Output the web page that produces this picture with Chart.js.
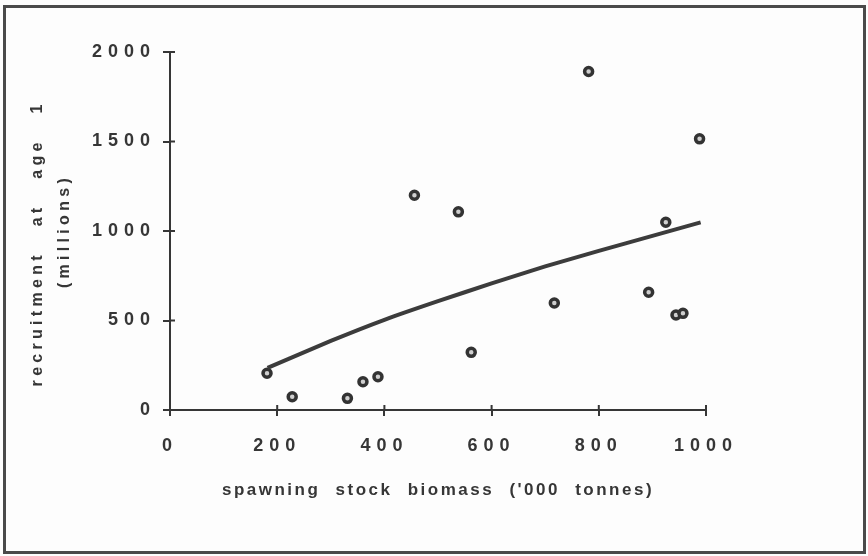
<!DOCTYPE html>
<html lang="en">
<head>
    <meta charset="UTF-8">
    <title>Stock and recruitment</title>
    <script src="https://cdn.jsdelivr.net/npm/chart.js"></script>
    <style>
        html, body {
            margin: 0;
            padding: 0;
            background: #fdfdfd;
        }
        .wrap {
            position: relative;
            width: 868px;
            height: 556px;
        }
        .frame {
            position: absolute;
            left: 3px;
            top: 5px;
            width: 857px;
            height: 543px;
            border: 3px solid #4a4a4a;
            pointer-events: none;
        }
    </style>
</head>
<body>
    <div class="wrap">
        <canvas id="srChart" width="868" height="556"></canvas>
        <div class="frame"></div>
    </div>

    <script>
        // observed points
        const ssb = [181, 228, 331, 360, 388, 456, 538, 562, 717, 781, 893, 925, 944, 957, 988];
        const recruits = [205, 74, 65, 158, 186, 1200, 1107, 322, 598, 1891, 658, 1049, 531, 540, 1515];

        // fitted curve
        const fitSsb = [182, 300, 400, 500, 600, 700, 800, 900, 990];
        const fitRecruits = [235, 386, 504, 608, 707, 802, 889, 973, 1048];

        const xTitle = "spawning stock biomass ('000 tonnes)";
        // trailing space nudges the first line down a little, as in the original
        const yTitle = ["recruitment at age 1 ", "(millions)"];

        const ink = '#363636';

        // letter spacing per text kind (canvas letterSpacing / wordSpacing)
        const spacing = {
            ticks: { letter: '6px', word: '0px' },
            x: { letter: '2.5px', word: '8px' },
            y: { letter: '4.3px', word: '16px' }
        };

        function setSpacing(ctx, s) {
            ctx.letterSpacing = s ? s.letter : '0px';
            ctx.wordSpacing = s ? s.word : '0px';
        }

        const spacedText = {
            id: 'spacedText',
            beforeDraw(chart) {
                Object.values(chart.scales).forEach(scale => {
                    if (scale._spaced) return;
                    scale._spaced = true;
                    const drawTitle = scale.drawTitle;
                    const drawLabels = scale.drawLabels;
                    scale.drawTitle = function () {
                        setSpacing(this.ctx, spacing[this.id]);
                        drawTitle.apply(this, arguments);
                        setSpacing(this.ctx, null);
                    };
                    scale.drawLabels = function () {
                        setSpacing(this.ctx, spacing.ticks);
                        drawLabels.apply(this, arguments);
                        setSpacing(this.ctx, null);
                    };
                });
            }
        };

        // short tick halves on the inner side of each axis
        const innerTicks = {
            id: 'innerTicks',
            afterDraw(chart) {
                const ctx = chart.ctx;
                const area = chart.chartArea;
                const x = chart.scales.x, y = chart.scales.y;
                ctx.save();
                ctx.strokeStyle = ink;
                ctx.lineWidth = 2;
                ctx.beginPath();
                x.ticks.forEach(t => {
                    const px = x.getPixelForValue(t.value);
                    ctx.moveTo(px, area.bottom);
                    ctx.lineTo(px, area.bottom - 5);
                });
                y.ticks.forEach(t => {
                    const py = y.getPixelForValue(t.value);
                    ctx.moveTo(area.left, py);
                    ctx.lineTo(area.left + 5, py);
                });
                ctx.stroke();
                ctx.restore();
            }
        };

        const family = 'Liberation Sans, Arial, sans-serif';
        const tickFont = { family: family, size: 18, weight: 'bold' };
        const plain = v => String(v);

        new Chart(document.getElementById('srChart'), {
            type: 'scatter',
            data: {
                datasets: [
                    {
                        label: 'fit',
                        type: 'line',
                        data: fitSsb.map((s, i) => ({ x: s, y: fitRecruits[i] })),
                        borderColor: '#3c3c3c',
                        borderWidth: 4,
                        pointRadius: 0,
                        tension: 0.2,
                        fill: false
                    },
                    {
                        label: 'observed',
                        data: ssb.map((s, i) => ({ x: s, y: recruits[i] })),
                        pointRadius: 4,
                        pointBorderWidth: 3.5,
                        pointBorderColor: '#333333',
                        pointBackgroundColor: '#cfcfcf'
                    }
                ]
            },
            options: {
                responsive: false,
                animation: false,
                layout: { padding: { top: 52, right: 162, left: 0, bottom: 0 } },
                plugins: {
                    legend: { display: false },
                    tooltip: { enabled: false }
                },
                scales: {
                    x: {
                        type: 'linear',
                        min: 0,
                        max: 1000,
                        afterFit(scale) { scale.height = 146; },
                        border: { display: true, color: ink, width: 2 },
                        grid: { drawOnChartArea: false, drawTicks: true, tickLength: 6, tickColor: ink, lineWidth: 2 },
                        ticks: { stepSize: 200, color: ink, font: tickFont, padding: 19, maxRotation: 0, autoSkip: false, callback: plain },
                        title: {
                            display: true,
                            text: xTitle,
                            color: ink,
                            font: { family: family, size: 17, weight: 'bold' },
                            padding: { top: 0, bottom: 55 }
                        }
                    },
                    y: {
                        type: 'linear',
                        min: 0,
                        max: 2000,
                        afterFit(scale) { scale.width = 170; },
                        border: { display: true, color: ink, width: 2 },
                        grid: { drawOnChartArea: false, drawTicks: true, tickLength: 7, tickColor: ink, lineWidth: 2 },
                        ticks: { stepSize: 500, color: ink, font: tickFont, padding: 7, callback: plain },
                        title: {
                            display: true,
                            text: yTitle,
                            color: ink,
                            font: { family: family, size: 16, weight: 'bold', lineHeight: '27px' },
                            padding: { top: 24, bottom: 0 }
                        }
                    }
                }
            },
            plugins: [spacedText, innerTicks]
        });
    </script>
</body>
</html>
